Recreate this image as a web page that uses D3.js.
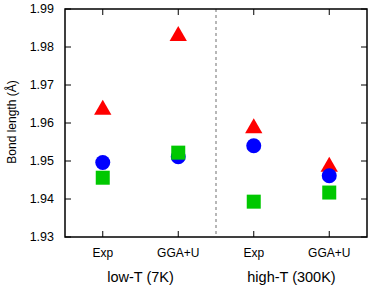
<!DOCTYPE html>
<html>
<head>
<meta charset="utf-8">
<script src="https://cdn.jsdelivr.net/npm/d3@7"></script>
<style>
  body { margin: 0; background: #fff; }
  text { font-family: "Liberation Sans", Arial, sans-serif; fill: #000; }
</style>
</head>
<body>
<script>
// data
let categories = ['Exp', 'GGA+U', 'Exp', 'GGA+U'];
let groups = ['low-T (7K)', 'high-T (300K)'];
let triangleVals = [1.9639, 1.9833, 1.9590, 1.9489];
let circleVals = [1.9496, 1.9511, 1.9540, 1.9461];
let squareVals = [1.9456, 1.9522, 1.9393, 1.9417];
let yTicks = [1.93, 1.94, 1.95, 1.96, 1.97, 1.98, 1.99];

let svg = d3.select('body')
  .append('svg')
  .attr('width', 374)
  .attr('height', 291);

let plotLeft = 65, plotRight = 367, plotTop = 9, plotBottom = 237;

let x = d3.scaleLinear().domain([-0.5, 3.5]).range([plotLeft, plotRight]);
let y = d3.scaleLinear().domain([1.93, 1.99]).range([plotBottom, plotTop]);

// separator between the two temperature groups
svg.append('line')
  .attr('x1', x(1.5)).attr('x2', x(1.5))
  .attr('y1', plotTop).attr('y2', plotBottom)
  .attr('stroke', '#888')
  .attr('stroke-width', 1.2)
  .attr('stroke-dasharray', '3,3');

// y ticks, inward on both sides
yTicks.forEach(t => {
  svg.append('line')
    .attr('x1', plotLeft).attr('x2', plotLeft + 6)
    .attr('y1', y(t)).attr('y2', y(t))
    .attr('stroke', 'black');
  svg.append('line')
    .attr('x1', plotRight).attr('x2', plotRight - 6)
    .attr('y1', y(t)).attr('y2', y(t))
    .attr('stroke', 'black');
  svg.append('text')
    .attr('x', plotLeft - 11)
    .attr('y', y(t))
    .attr('dy', '0.35em')
    .attr('text-anchor', 'end')
    .attr('font-size', 12.5)
    .text(d3.format('.2f')(t));
});

// x ticks + category labels
categories.forEach((c, i) => {
  svg.append('line')
    .attr('x1', x(i)).attr('x2', x(i))
    .attr('y1', plotBottom).attr('y2', plotBottom - 6)
    .attr('stroke', 'black');
  svg.append('line')
    .attr('x1', x(i)).attr('x2', x(i))
    .attr('y1', plotTop).attr('y2', plotTop + 6)
    .attr('stroke', 'black');
  svg.append('text')
    .attr('x', x(i))
    .attr('y', 253)
    .attr('dy', '0.35em')
    .attr('text-anchor', 'middle')
    .attr('font-size', 12)
    .text(c);
});

groups.forEach((g, i) => {
  svg.append('text')
    .attr('x', x(i * 2 + 0.5))
    .attr('y', 277)
    .attr('dy', '0.35em')
    .attr('text-anchor', 'middle')
    .attr('font-size', 14.5)
    .text(g);
});

svg.append('text')
  .attr('transform', 'translate(12,122) rotate(-90)')
  .attr('dy', '0.35em')
  .attr('text-anchor', 'middle')
  .attr('font-size', 12)
  .text('Bond length (Å)');

// markers: triangle, then circle, then square on top
let tri = d3.symbol().type(d3.symbolTriangle).size(130);
svg.selectAll('.tri')
  .data(triangleVals)
  .enter().append('path')
  .attr('d', tri)
  .attr('transform', (d, i) => `translate(${x(i)},${y(d) + 1.5})`)
  .attr('fill', '#ff0000');

svg.selectAll('.circ')
  .data(circleVals)
  .enter().append('circle')
  .attr('cx', (d, i) => x(i))
  .attr('cy', d => y(d))
  .attr('r', 7.5)
  .attr('fill', '#0000ff');

svg.selectAll('.sq')
  .data(squareVals)
  .enter().append('rect')
  .attr('x', (d, i) => x(i) - 7)
  .attr('y', d => y(d) - 7)
  .attr('width', 14)
  .attr('height', 14)
  .attr('fill', '#00c800');

// frame
svg.append('rect')
  .attr('x', plotLeft).attr('y', plotTop)
  .attr('width', plotRight - plotLeft).attr('height', plotBottom - plotTop)
  .attr('fill', 'none')
  .attr('stroke', 'black')
  .attr('stroke-width', 1.5);
</script>
</body>
</html>
